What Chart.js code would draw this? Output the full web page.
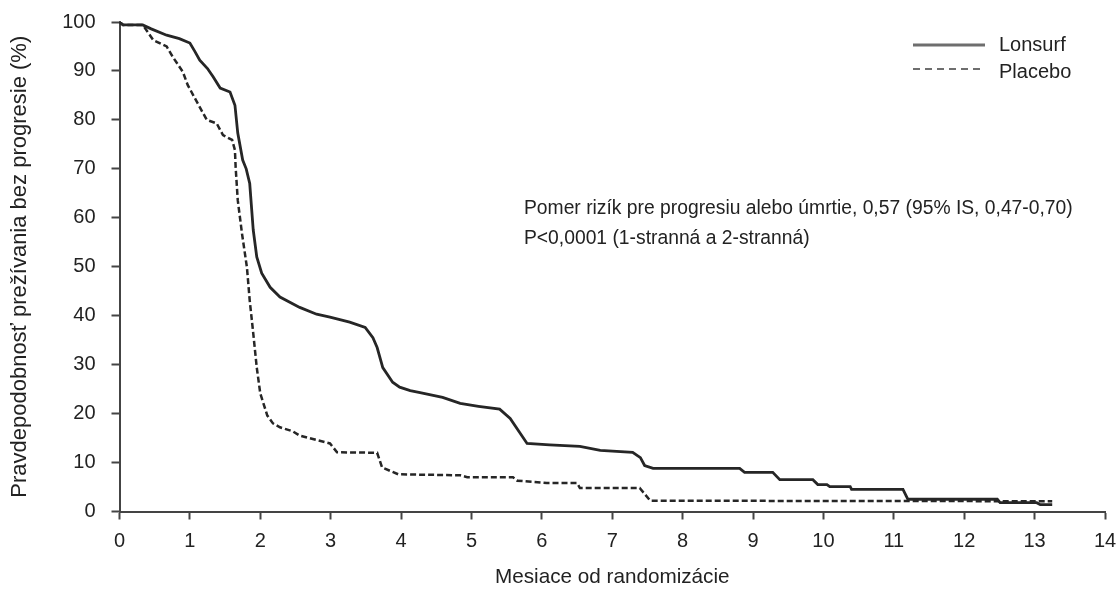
<!DOCTYPE html>
<html>
<head>
<meta charset="utf-8">
<script src="https://cdn.jsdelivr.net/npm/chart.js@4/dist/chart.umd.min.js"></script>
<style>
  body { margin: 0; background: #fff; }
  #wrap { width: 1116px; height: 590px; }
</style>
</head>
<body>
<div id="wrap"><canvas id="pfsChart" width="1116" height="590"></canvas></div>
<script>
// Kaplan-Meier PFS curves (months, %)
var lonsurfX = [0, 0.05, 0.33, 0.45, 0.67, 0.85, 1.0, 1.07, 1.14, 1.25, 1.33, 1.43, 1.57, 1.64, 1.68, 1.75, 1.8, 1.85, 1.9, 1.95, 2.02, 2.14, 2.28, 2.56, 2.8, 2.99, 3.27, 3.49, 3.6, 3.66, 3.74, 3.88, 3.98, 4.13, 4.27, 4.59, 4.84, 5.1, 5.4, 5.55, 5.79, 6.11, 6.54, 6.83, 7.29, 7.4, 7.46, 7.58, 8.81, 8.88, 9.28, 9.38, 9.85, 9.92, 10.05, 10.09, 10.38, 10.4, 11.13, 11.2, 12.47, 12.51, 13.03, 13.08, 13.25];
var lonsurfY = [100, 99.4, 99.4, 98.6, 97.3, 96.6, 95.7, 94, 92.2, 90.5, 88.8, 86.5, 85.7, 83, 77.3, 71.8, 70, 67, 57.5, 52, 48.7, 45.8, 43.8, 41.7, 40.3, 39.7, 38.7, 37.6, 35.5, 33.5, 29.4, 26.4, 25.4, 24.7, 24.3, 23.3, 22.1, 21.5, 20.9, 19, 13.9, 13.6, 13.3, 12.5, 12.1, 11, 9.4, 8.8, 8.8, 8.0, 8.0, 6.5, 6.5, 5.5, 5.5, 5.1, 5.1, 4.5, 4.5, 2.5, 2.5, 1.8, 1.8, 1.4, 1.4];

var placeboX = [0, 0.05, 0.33, 0.48, 0.67, 0.76, 0.9, 0.97, 1.14, 1.24, 1.38, 1.47, 1.6, 1.64, 1.65, 1.68, 1.74, 1.81, 1.85, 1.9, 1.95, 2.0, 2.1, 2.18, 2.28, 2.46, 2.56, 2.99, 3.09, 3.66, 3.73, 3.96, 4.84, 4.94, 5.59, 5.65, 6.07, 6.5, 6.54, 7.39, 7.54, 13.25];
var placeboY = [100, 99.4, 99.4, 96.3, 95, 92.8, 89.8, 87.1, 82.6, 80, 79.3, 76.9, 75.9, 73.8, 70.3, 63.6, 56.8, 49.9, 43.1, 36.4, 29.4, 24.1, 19.6, 18, 17.2, 16.4, 15.5, 13.9, 12.1, 12.0, 9.0, 7.6, 7.4, 7.0, 7.0, 6.3, 5.8, 5.8, 4.8, 4.8, 2.2, 2.1];

var seriesNames = ['Lonsurf', 'Placebo'];
var noteLines = [
  'Pomer rizík pre progresiu alebo úmrtie, 0,57 (95% IS, 0,47-0,70)',
  'P<0,0001 (1-stranná a 2-stranná)'
];

function toPoints(xs, ys) {
  var pts = [];
  for (var i = 0; i < xs.length; i++) pts.push({x: xs[i], y: ys[i]});
  return pts;
}

var FONT = '"Liberation Sans", Arial, sans-serif';
var INK = '#222222';
var AXIS = '#444444';

// legend + annotation text drawn on top
var overlay = {
  id: 'overlay',
  afterDraw: function (chart) {
    var ctx = chart.ctx;
    ctx.save();
    // legend
    ctx.strokeStyle = '#6e6e6e';
    ctx.lineWidth = 3;
    ctx.beginPath();
    ctx.moveTo(913, 45); ctx.lineTo(985, 45);
    ctx.stroke();
    ctx.setLineDash([7, 5]);
    ctx.lineWidth = 2;
    ctx.beginPath();
    ctx.moveTo(913, 69); ctx.lineTo(985, 69);
    ctx.stroke();
    ctx.setLineDash([]);
    ctx.fillStyle = INK;
    ctx.font = '20px ' + FONT;
    ctx.textBaseline = 'middle';
    ctx.textAlign = 'left';
    ctx.fillText(seriesNames[0], 999, 45);
    ctx.fillText(seriesNames[1], 999, 72);
    // hazard ratio note
    ctx.font = '19.3px ' + FONT;
    ctx.fillText(noteLines[0], 524, 209);
    ctx.fillText(noteLines[1], 524, 239);
    ctx.restore();
  }
};

var ctx = document.getElementById('pfsChart');
var pfsChart = new Chart(ctx, {
  type: 'line',
  data: {
    datasets: [
      {
        label: seriesNames[0],
        data: toPoints(lonsurfX, lonsurfY),
        borderColor: '#262626',
        borderWidth: 2.8,
        pointRadius: 0,
        tension: 0,
        fill: false
      },
      {
        label: seriesNames[1],
        data: toPoints(placeboX, placeboY),
        borderColor: '#262626',
        borderWidth: 2.5,
        borderDash: [6, 3],
        pointRadius: 0,
        tension: 0,
        fill: false
      }
    ]
  },
  options: {
    responsive: false,
    animation: false,
    layout: { padding: { top: 22, right: 11, left: 0, bottom: 0 } },
    plugins: {
      legend: { display: false },
      tooltip: { enabled: false }
    },
    scales: {
      x: {
        type: 'linear',
        min: 0,
        max: 14,
        ticks: { stepSize: 1, color: INK, padding: 10, font: { family: FONT, size: 20 } },
        grid: { drawOnChartArea: false, drawTicks: true, tickLength: 8, tickWidth: 2, tickColor: AXIS },
        border: { display: true, color: AXIS, width: 2 },
        title: { display: true, text: 'Mesiace od randomizácie', color: INK, padding: 0, font: { family: FONT, size: 20.7 } },
        afterFit: function (scale) {
          scale.height = 78.5;
          scale.paddingLeft = 0;
          scale.paddingRight = 0;
        }
      },
      y: {
        min: 0,
        max: 100,
        ticks: { stepSize: 10, color: INK, padding: 16, font: { family: FONT, size: 20 } },
        grid: { drawOnChartArea: false, drawTicks: true, tickLength: 8, tickWidth: 2, tickColor: AXIS },
        border: { display: true, color: AXIS, width: 2 },
        title: { display: true, text: 'Pravdepodobnosť prežívania bez progresie (%)', color: INK, padding: { top: 7 }, font: { family: FONT, size: 22 } },
        afterFit: function (scale) {
          scale.width = 119.5;
          scale.paddingTop = 0;
          scale.paddingBottom = 0;
        }
      }
    }
  },
  plugins: [overlay]
});
</script>
</body>
</html>
